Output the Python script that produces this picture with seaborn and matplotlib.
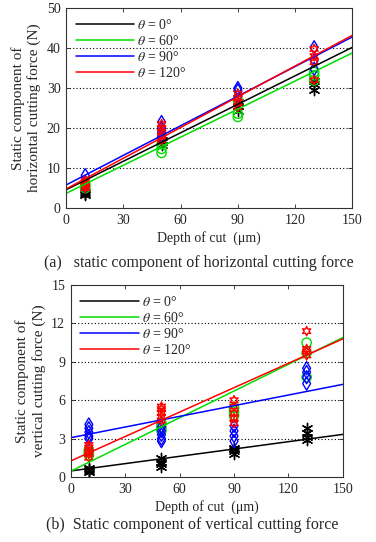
import numpy as np
import pandas as pd
import matplotlib
matplotlib.use("Agg")
import matplotlib.pyplot as plt
import seaborn as sns

# depth of cut groups (um)
depths = [10, 50, 90, 130]
angles = ["0", "60", "90", "120"]
colors = ["black", "#00dd00", "blue", "red"]
markers = [(6, 2, 0), "o", "d", (6, 1, 0)]

# fitted lines: value at depth 0 and depth 150
h_fit_start = [4.6, 3.7, 5.8, 4.8]
h_fit_end = [40.2, 38.8, 42.8, 43.2]
v_fit_start = [0.47, 0.45, 3.07, 1.25]
v_fit_end = [3.33, 10.9, 7.24, 10.8]

# measured points, horizontal force (N): per angle, per depth
h_points = {
    "0": [[3.2, 3.6, 4.0], [15.7, 16.5, 17.0], [24.4, 25.5, 26.5], [29.6, 31.0, 31.9]],
    "60": [[5.0, 5.5, 6.0], [13.8, 14.8, 16.0], [22.8, 23.6, 27.0], [31.9, 33.2, 34.0]],
    "90": [[5.5, 6.5, 8.2], [18.0, 19.0, 20.0, 21.5], [28.0, 29.4, 30.0], [34.8, 36.9, 40.2]],
    "120": [[5.0, 5.5, 6.0, 6.5, 7.0], [17.0, 18.0, 19.0, 20.0, 21.0], [25.3, 26.5, 27.5, 28.6], [32.0, 36.5, 38.0, 39.8]],
}
# measured points, vertical force (N)
v_points = {
    "0": [[0.35, 0.5, 0.6, 0.7], [0.8, 1.0, 1.2, 1.5], [1.8, 2.0, 2.2, 2.3], [2.9, 3.1, 3.4, 3.8]],
    "60": [[1.7, 1.9, 2.1], [3.6, 3.9, 4.2], [4.8, 5.1, 5.4], [7.8, 9.7, 10.5]],
    "90": [[3.0, 3.2, 3.5, 3.8, 4.1], [2.8, 3.0, 3.3, 3.6, 3.9], [2.8, 3.2, 3.6, 4.0], [7.3, 7.8, 8.2, 8.5]],
    "120": [[1.5, 1.8, 2.0, 2.3, 2.5], [4.4, 4.7, 5.0, 5.3, 5.5], [4.2, 4.6, 5.0, 5.5, 6.0], [9.5, 9.8, 10.0, 11.4]],
}

sns.set_theme(style="ticks")
plt.rcParams['font.family'] = ['Liberation Serif', 'DejaVu Serif']
plt.rcParams['mathtext.fontset'] = 'stix'
plt.rcParams['xtick.direction'] = 'in'
plt.rcParams['ytick.direction'] = 'in'


def make_long(points):
    rows = []
    for ang, groups in points.items():
        for d, vals in zip(depths, groups):
            for v in vals:
                rows.append({"angle": ang, "depth": d, "force": v})
    return pd.DataFrame(rows)


def draw_panel(ax, points, fit_start, fit_end, ymax, ystep, ylabel):
    df = make_long(points)
    for i, ang in enumerate(angles):
        line_df = pd.DataFrame({"depth": [0, 150], "force": [fit_start[i], fit_end[i]]})
        sns.lineplot(data=line_df, x="depth", y="force", color=colors[i], lw=1.1, ax=ax,
                     label=r"$\theta$ = " + ang + "°")
    for i, ang in enumerate(angles):
        sub = df[df["angle"] == ang]
        if i == 0:
            sns.scatterplot(data=sub, x="depth", y="force", marker=markers[i], color=colors[i],
                            s=55, linewidth=1.0, ax=ax, legend=False)
        else:
            sns.scatterplot(data=sub, x="depth", y="force", marker=markers[i], facecolor="none",
                            edgecolor=colors[i], s=45, linewidth=1.0, ax=ax, legend=False)
    ax.set_xlim(0, 150)
    ax.set_ylim(0, ymax)
    ax.set_xticks(np.arange(0, 151, 30))
    ax.set_yticks(np.arange(0, ymax + 0.1, ystep))
    ax.tick_params(top=True, right=True, labelsize=10, length=3, width=0.6, pad=4)
    for y in np.arange(ystep, ymax, ystep):
        ax.axhline(y, color="black", ls=(0, (1, 2)), lw=0.8, zorder=0)
    for s in ax.spines.values():
        s.set_linewidth(0.8)
        s.set_color("#333333")
    ax.set_xlabel("Depth of cut  (μm)", fontsize=10, labelpad=3)
    ax.set_ylabel(ylabel, fontsize=11, labelpad=4)
    leg = ax.legend(loc="upper left", frameon=False, fontsize=10, handlelength=4.2,
                    handletextpad=0.2, labelspacing=0.15, borderaxespad=0.3)


fig = plt.figure(figsize=(3.76, 5.42), dpi=100)
ax1 = fig.add_axes([0.176, 0.616, 0.761, 0.369])
ax2 = fig.add_axes([0.188, 0.12, 0.724, 0.354])

draw_panel(ax1, h_points, h_fit_start, h_fit_end, 50, 10,
           "Static component of\nhorizontal cutting force (N)")
draw_panel(ax2, v_points, v_fit_start, v_fit_end, 15, 3,
           "Static component of\nvertical cutting force (N)")

fig.text(0.53, 0.514, "(a)   static component of horizontal cutting force", ha="center",
         va="center", fontsize=11.5)
fig.text(0.51, 0.032, "(b)  Static component of vertical cutting force", ha="center",
         va="center", fontsize=11.5)

fig.savefig("out.png", dpi=100)
